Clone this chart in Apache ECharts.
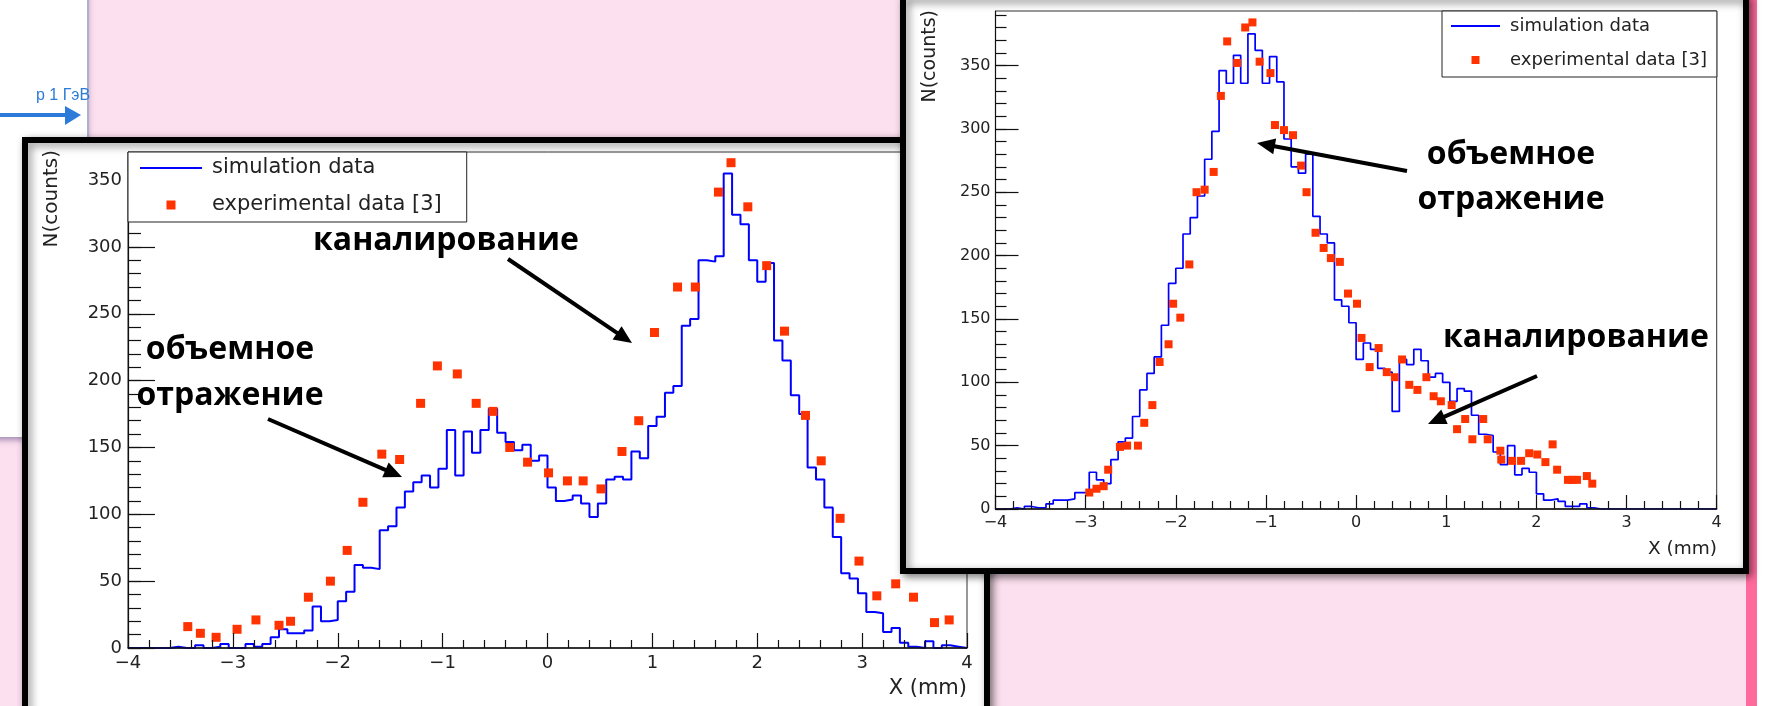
<!DOCTYPE html>
<html><head><meta charset="utf-8">
<script src="https://cdn.jsdelivr.net/npm/echarts@6/dist/echarts.min.js"></script>
<style>html,body{margin:0;padding:0;background:#fde0ef;overflow:hidden}#c{width:1769px;height:706px}</style>
</head><body><div id="c"></div>
<script>
// ---------------- data ----------------
const binLow = -4, binWidth = 0.08;   // ROOT histogram: 100 bins from -4 to 4
const xTickValues = [-4, -3, -2, -1, 0, 1, 2, 3, 4];
const yTickValues = [0, 50, 100, 150, 200, 250, 300, 350];
const yMinorTickValues = [0,10,20,30,40,50,60,70,80,90,100,110,120,130,140,150,160,170,180,190,200,210,220,230,240,250,260,270,280,290,300,310,320,330,340,350,360,370,380,390];
const legendNames = ['simulation data', 'experimental data [3]'];

// left panel
const leftSim = [0,0,0,0,0,1,0,0,2,0,
 1,3,0,0,3,1,3,8,14,11,
 11,13,31,20,21,35,42,62,60,59,
 88,91,105,117,124,129,120,134,163,129,
 162,146,163,179,161,154,148,152,140,144,
 120,110,111,114,108,98,108,126,128,126,
 147,142,166,173,191,196,241,246,290,289,
 293,355,324,317,290,274,288,230,215,189,
 175,135,126,105,83,56,52,41,27,26,
 12,15,4,1,0,5,0,2,1,0];
const leftExpX = [-3.43,-3.31,-3.16,-2.96,-2.78,-2.56,-2.45,-2.28,-2.07,-1.91,-1.76,-1.58,-1.41,-1.21,-1.05,-0.86,-0.68,-0.52,-0.36,-0.19,0.01,0.19,0.34,0.51,0.71,0.87,1.02,1.24,1.41,1.63,1.75,1.91,2.09,2.26,2.46,2.61,2.79,2.97,3.14,3.32,3.49,3.69,3.83];
const leftExpY = [16,11,8,14,21,17,20,38,50,73,109,145,141,183,211,205,183,177,150,139,131,125,125,119,147,170,236,270,270,341,363,330,286,237,174,140,97,65,39,48,38,19,21];

// right panel
const rightSim = [0,0,1,0,2,1,1,4,7,7,
 8,13,13,29,23,20,39,53,56,73,
 94,107,120,145,178,190,217,230,247,276,
 298,346,336,358,336,375,362,336,357,337,
 292,270,265,280,231,217,210,165,160,147,
 118,131,126,111,108,77,118,114,126,117,
 104,107,100,85,95,93,74,59,58,45,
 35,50,27,32,29,12,7,8,6,2,
 2,4,1,0,0,0,0,0,0,0,
 0,0,0,0,0,0,0,0,0,0];
const rightExpX = [-2.96,-2.88,-2.80,-2.75,-2.62,-2.54,-2.42,-2.35,-2.26,-2.18,-2.08,-2.03,-1.95,-1.85,-1.77,-1.68,-1.58,-1.50,-1.43,-1.32,-1.23,-1.15,-1.07,-0.95,-0.90,-0.80,-0.70,-0.61,-0.55,-0.45,-0.36,-0.28,-0.18,-0.09,0.01,0.06,0.15,0.25,0.34,0.43,0.51,0.59,0.68,0.78,0.86,0.94,1.06,1.12,1.21,1.29,1.41,1.46,1.60,1.61,1.73,1.83,1.92,2.01,2.10,2.18,2.23,2.35,2.40,2.45,2.56,2.62];
const rightExpY = [13,16,18,31,49,50,50,68,82,116,130,162,151,193,250,252,266,326,369,352,380,384,353,344,303,299,295,271,250,218,206,198,195,170,162,135,112,127,108,104,118,98,94,104,89,85,82,63,71,55,71,55,46,39,38,38,44,43,37,51,31,23,23,23,26,20];

// ---------------- helpers ----------------
function histData(vals) {
  const d = vals.map((v, k) => [binLow + k * binWidth, v]);
  d.push([binLow + vals.length * binWidth, vals[vals.length - 1]]);
  return d;
}
function pairs(xs, ys) { return xs.map((x, i) => [x, ys[i]]); }
const minusFmt = v => (v < 0 ? '\u2212' + Math.abs(v) : String(v));
const ROOTFONT = 'DejaVu Sans';
const RED = '#ff3300';

function arrow(x1, y1, x2, y2, w, hl, hw, zl) {
  const dx = x2 - x1, dy = y2 - y1, L = Math.hypot(dx, dy), ux = dx / L, uy = dy / L;
  const bx = x2 - ux * hl, by = y2 - uy * hl;
  return [
    { type: 'line', zlevel: zl, z: 30, shape: { x1: x1, y1: y1, x2: bx + ux * 3, y2: by + uy * 3 }, style: { stroke: '#000', lineWidth: w } },
    { type: 'polygon', zlevel: zl, z: 30, shape: { points: [[x2, y2], [bx - uy * hw, by + ux * hw], [bx + uy * hw, by - ux * hw]] }, style: { fill: '#000' } }
  ];
}
function note(text, x, y, align, zl) {
  return { type: 'text', zlevel: zl, z: 30, x: x, y: y,
    style: { text: text, fontFamily: 'Open Sans', fontWeight: 'bold', fontSize: 32, fill: '#000', align: align, verticalAlign: 'middle' } };
}
function axisTitle(text, x, y, size, rot, zl) {
  return { type: 'text', zlevel: zl, z: 12, x: x, y: y, rotation: rot,
    style: { text: text, fontFamily: ROOTFONT, fontSize: size, fill: '#222', align: 'right', verticalAlign: 'middle' } };
}
// legend icons: a small centred square marker, and a thin line, inside the full item box
function markerIcon(w, h, s) {
  const a = (w - s) / 2, b = (h - s) / 2;
  return 'path://M0,0L0,0M' + w + ',' + h + 'L' + w + ',' + h +
    'M' + a + ',' + b + 'L' + (a + s) + ',' + b + 'L' + (a + s) + ',' + (b + s) + 'L' + a + ',' + (b + s) + 'Z';
}
function lineIcon(w, h, t) {
  const b = (h - t) / 2;
  return 'path://M0,0L0,0M' + w + ',' + h + 'L' + w + ',' + h +
    'M0,' + b + 'L' + w + ',' + b + 'L' + w + ',' + (b + t) + 'L0,' + (b + t) + 'Z';
}

// ---------------- layout constants ----------------
const G0 = { left: 128, top: 152, width: 839, height: 496 };
const G1 = { left: 995.5, top: 11, width: 721.2, height: 498 };

function xAxisCfg(grid, zl, tickLen, minorLen, fs, margin) {
  return { gridIndex: grid, type: 'value', min: -4, max: 4, interval: 1, zlevel: zl, z: 10,
    axisLine: { show: true, onZero: false, lineStyle: { color: '#111', width: 1.5 } },
    axisTick: { show: true, inside: true, length: tickLen, lineStyle: { color: '#111', width: 1.2 } },
    minorTick: { show: true, splitNumber: 5, length: minorLen, lineStyle: { color: '#111', width: 1.2 } },
    axisLabel: { show: true, margin: margin, fontFamily: ROOTFONT, fontSize: fs, color: '#222', formatter: minusFmt, customValues: xTickValues },
    splitLine: { show: false } };
}
function yAxesCfg(grid, zl, ymax, tickLen, minorLen, fs, margin) {
  return [
    { gridIndex: grid, type: 'value', position: 'left', min: 0, max: ymax, interval: 50, zlevel: zl, z: 10,
      axisLine: { show: true, onZero: false, lineStyle: { color: '#111', width: 1.2 } },
      axisTick: { show: true, inside: true, length: tickLen, lineStyle: { color: '#111', width: 1.2 }, customValues: yTickValues },
      axisLabel: { show: true, margin: margin, fontFamily: ROOTFONT, fontSize: fs, color: '#222', customValues: yTickValues },
      splitLine: { show: false } },
    { gridIndex: grid, type: 'value', position: 'left', min: 0, max: ymax, interval: 10, zlevel: zl, z: 10,
      axisLine: { show: false, onZero: false },
      axisTick: { show: true, inside: true, length: minorLen, lineStyle: { color: '#111', width: 1.2 }, customValues: yMinorTickValues.filter(v => v < ymax) },
      axisLabel: { show: false }, splitLine: { show: false } }
  ];
}
function legendCfg(left, top, zl, iw, ih, gap, pad, fs, ms) {
  return { left: left, top: top, orient: 'vertical', zlevel: zl, z: 20, selectedMode: false,
    itemWidth: iw, itemHeight: ih, itemGap: gap, padding: pad,
    backgroundColor: '#ffffff', borderColor: '#222', borderWidth: 1,
    textStyle: { fontFamily: ROOTFONT, fontSize: fs, color: '#222', padding: [0, 0, 0, 5] },
    data: [
      { name: legendNames[0], icon: lineIcon(iw, ih, 2), itemStyle: { color: '#0000ff', borderWidth: 0 } },
      { name: legendNames[1], icon: markerIcon(iw, ih, ms), itemStyle: { color: RED, borderWidth: 0, opacity: 1 } }
    ] };
}

const graphics = [
  // slide background pieces
  { type: 'rect', zlevel: 0, z: 0, shape: { x: 0, y: 0, width: 1769, height: 706 }, style: { fill: '#fde0ef' } },
  { type: 'rect', zlevel: 0, z: 0, shape: { x: 1757, y: 0, width: 12, height: 706 }, style: { fill: '#ffffff' } },
  { type: 'rect', zlevel: 0, z: 0, shape: { x: 1746, y: 0, width: 11, height: 706 }, style: { fill: '#ff6a9c' } },
  { type: 'rect', zlevel: 0, z: 1, shape: { x: -10, y: -10, width: 98, height: 447 },
    style: { fill: '#ffffff', shadowBlur: 6, shadowOffsetY: 3, shadowColor: 'rgba(90,70,130,0.55)' } },
  { type: 'line', zlevel: 0, z: 2, shape: { x1: 88, y1: 0, x2: 88, y2: 437 }, style: { stroke: '#aab2cf', lineWidth: 2 } },
  { type: 'line', zlevel: 0, z: 2, shape: { x1: 0, y1: 115, x2: 68, y2: 115 }, style: { stroke: '#2c7bd9', lineWidth: 4 } },
  { type: 'polygon', zlevel: 0, z: 2, shape: { points: [[65, 106], [81, 115], [65, 125]] }, style: { fill: '#2c7bd9' } },
  { type: 'text', zlevel: 0, z: 2, x: 36, y: 96, style: { text: 'р 1 ГэВ', fontFamily: 'Liberation Sans', fontSize: 16, fill: '#2c7bd9', align: 'left', verticalAlign: 'middle' } },
  // left panel frame
  { type: 'rect', zlevel: 0, z: 3, shape: { x: 25, y: 140, width: 962, height: 640 },
    style: { fill: '#ffffff', stroke: '#000', lineWidth: 6, shadowBlur: 8, shadowOffsetX: 3, shadowOffsetY: 3, shadowColor: 'rgba(0,0,0,0.45)' } },
  axisTitle('N(counts)', 52, 150, 20, Math.PI / 2, 0),
  axisTitle('X (mm)', 967, 689, 21, 0, 0),
  note('каналирование', 313, 241, 'left', 0),
  note('объемное', 230, 350, 'center', 0),
  note('отражение', 230, 396, 'center', 0),
  ...arrow(508, 259, 632, 343, 4, 18, 8, 0),
  ...arrow(268, 419, 402, 477, 4, 18, 8, 0),
  // right panel frame (on top)
  { type: 'rect', zlevel: 1, z: 3, shape: { x: 903, y: -3, width: 843, height: 574 },
    style: { fill: '#ffffff', stroke: '#000', lineWidth: 6, shadowBlur: 8, shadowOffsetX: 3, shadowOffsetY: 3, shadowColor: 'rgba(0,0,0,0.45)' } },
  axisTitle('N(counts)', 930, 10, 19, Math.PI / 2, 1),
  axisTitle('X (mm)', 1717, 549, 18.5, 0, 1),
  note('объемное', 1511, 155, 'center', 1),
  note('отражение', 1511, 200, 'center', 1),
  note('каналирование', 1443, 338, 'left', 1),
  ...arrow(1407, 171, 1257, 143, 4, 18, 8, 1),
  ...arrow(1537, 376, 1428, 424, 4, 18, 8, 1)
];

const option = {
  animation: false,
  graphic: { elements: graphics },
  grid: [
    Object.assign({ show: true, borderColor: '#333', borderWidth: 1, backgroundColor: 'transparent', zlevel: 0, z: 4 }, G0),
    Object.assign({ show: true, borderColor: '#333', borderWidth: 1, backgroundColor: 'transparent', zlevel: 1, z: 4 }, G1)
  ],
  xAxis: [xAxisCfg(0, 0, 15, 8, 18, 6), xAxisCfg(1, 1, 14, 8, 16, 6)],
  yAxis: [...yAxesCfg(0, 0, 371, 27, 13, 18, 6), ...yAxesCfg(1, 1, 393, 23, 11, 16, 5)],
  legend: [
    legendCfg(128, 152, 0, 62, 9, 16, [5.5, 25, 6.5, 12], 21, 9),
    legendCfg(1442, 11, 1, 49, 8, 16, [6, 10, 8, 9], 18, 8)
  ],
  series: [
    { name: legendNames[0], type: 'line', xAxisIndex: 0, yAxisIndex: 0, zlevel: 0, z: 8,
      step: 'end', symbol: 'none', data: histData(leftSim), lineStyle: { color: '#0000ff', width: 2 }, itemStyle: { color: '#0000ff' } },
    { name: legendNames[1], type: 'scatter', xAxisIndex: 0, yAxisIndex: 0, zlevel: 0, z: 9,
      symbol: 'rect', symbolSize: 9, data: pairs(leftExpX, leftExpY), itemStyle: { color: RED, opacity: 1 } },
    { name: legendNames[0], type: 'line', xAxisIndex: 1, yAxisIndex: 2, zlevel: 1, z: 8,
      step: 'end', symbol: 'none', data: histData(rightSim), lineStyle: { color: '#0000ff', width: 1.7 }, itemStyle: { color: '#0000ff' } },
    { name: legendNames[1], type: 'scatter', xAxisIndex: 1, yAxisIndex: 2, zlevel: 1, z: 9,
      symbol: 'rect', symbolSize: 8, data: pairs(rightExpX, rightExpY), itemStyle: { color: RED, opacity: 1 } }
  ]
};
const chart = echarts.init(document.getElementById('c'), null, { width: 1769, height: 706 });
chart.setOption(option);
</script>
</body></html>
